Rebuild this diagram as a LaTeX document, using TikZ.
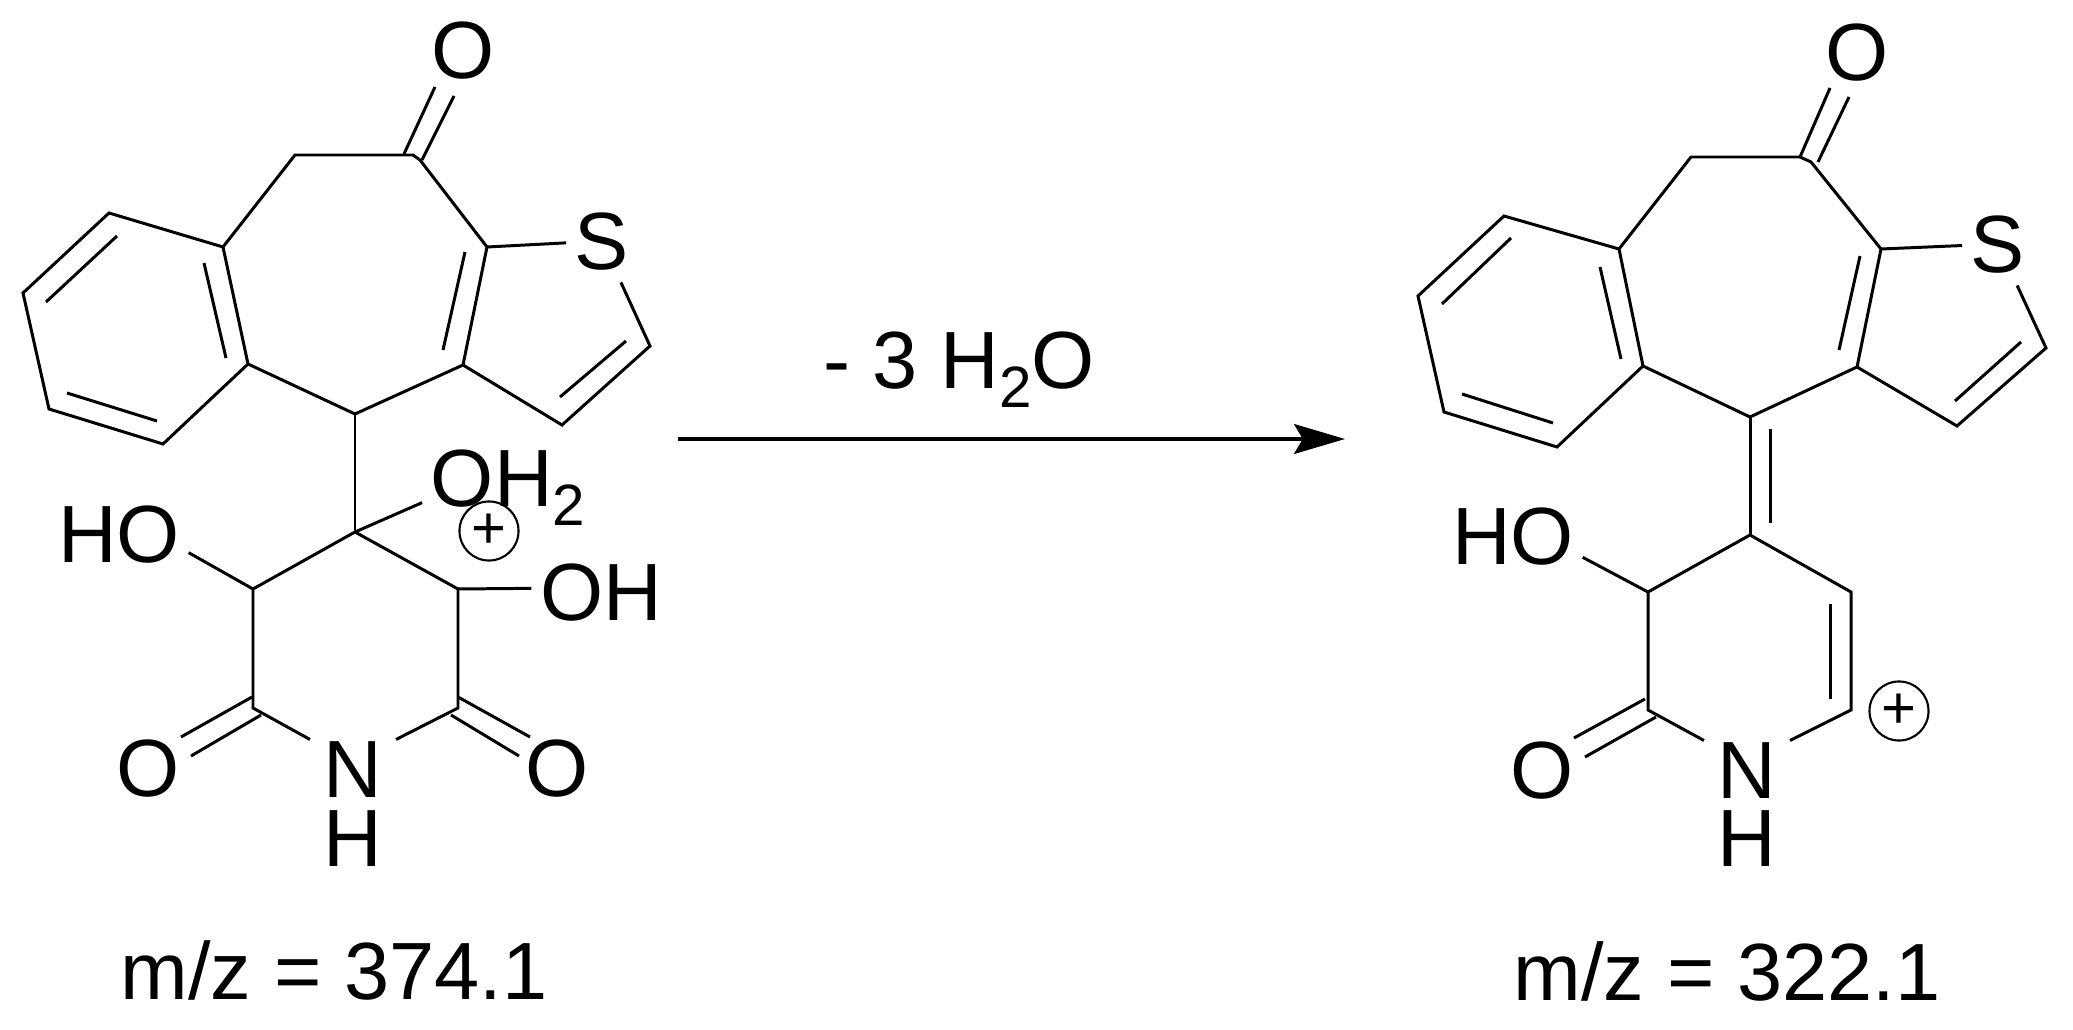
\documentclass[tikz,border=0pt]{standalone}
\usepackage{fontspec}
\setmainfont{Liberation Sans}
\usetikzlibrary{arrows.meta}

\newcommand{\subtwo}{\raisebox{-5.4pt}{\fontsize{16.6}{18}\selectfont 2}}

\tikzset{
  bond/.style={line width=0.85pt,black,line join=miter},
  atom/.style={font=\fontsize{23.1}{27}\selectfont,text height=16.4pt,text depth=0pt,inner xsep=2.3pt,inner ysep=0pt},
  atoms/.style={atom,inner ysep=3.4pt},
  atomn/.style={atom,inner xsep=3.7pt},
  charge/.style={draw,circle,line width=0.6pt,minimum size=16.8pt,inner sep=0pt,font=\fontsize{17}{18}\selectfont},
  caption/.style={font=\fontsize{23.1}{27}\selectfont,anchor=base,inner sep=0pt}
}

\begin{document}
\begin{tikzpicture}[x=0.1mm,y=-0.1mm]
 \useasboundingbox (0,0) rectangle (2073,1030);

 % left molecule, labels
 \node[atom] (lo) at (463,50) {O};
 \node[atoms] (ls) at (602,241) {S};
 \node[atom] (lho) at (119,534) {HO};
 \node[atom] (loh) at (601,592) {OH};
 \node[atom] (loh2) at (508,478) {OH\subtwo};
 \node[charge] (lplus) at (489,531) {+};
 \node[atom] (lol) at (148,768) {O};
 \node[atom] (lor) at (557,768) {O};
 \node[atomn] (ln) at (353,769) {N};
 \node[atom] (lh) at (353,838) {H};
 \node[caption] (lmz) at (334,999) {m/z = 374.1};

 % left molecule, atoms
 \coordinate (lb1) at (223,247);
 \coordinate (lb2) at (109,213);
 \coordinate (lb3) at (23,293);
 \coordinate (lb4) at (49,409);
 \coordinate (lb5) at (163,444);
 \coordinate (lb6) at (248,364);
 \coordinate (lc1) at (295,155);
 \coordinate (lc2) at (413,155);
 \coordinate (lc3) at (420,160);
 \coordinate (lc4) at (487,247);
 \coordinate (lc5) at (463,365);
 \coordinate (lc6) at (355,414);
 \coordinate (lt1) at (650,346);
 \coordinate (lt2) at (562,425);
 \coordinate (lq) at (355,532);
 \coordinate (lr1) at (253,589);
 \coordinate (lr2) at (458,589);
 \coordinate (lr3) at (253,708);
 \coordinate (lr4) at (458,708);

 % left molecule, second lines of the double bonds
 \coordinate (li1a) at (204,263);
 \coordinate (li1b) at (226,358);
 \coordinate (li2a) at (117,236);
 \coordinate (li2b) at (46,302);
 \coordinate (li3a) at (67,393);
 \coordinate (li3b) at (157,421);
 \coordinate (li4a) at (465,252);
 \coordinate (li4b) at (443,350);
 \coordinate (li5a) at (626,341);
 \coordinate (li5b) at (560,397);
 \coordinate (ld1a) at (404,154);
 \coordinate (ld1b) at (435,87);
 \coordinate (ld2a) at (422,160);
 \coordinate (ld2b) at (454,96);
 \coordinate (ld3a) at (252,697);
 \coordinate (ld3b) at (181,737);
 \coordinate (ld4a) at (261,715);
 \coordinate (ld4b) at (191,756);
 \coordinate (ld5a) at (458,697);
 \coordinate (ld5b) at (530,737);
 \coordinate (ld6a) at (451,715);
 \coordinate (ld6b) at (519,756);

 % left molecule, bonds
 \draw[bond] (lb1)--(lb2)--(lb3)--(lb4)--(lb5)--(lb6)--cycle;
 \draw[bond] (lb1)--(lc1)--(lc2)--(lc3)--(lc4)--(lc5)--(lc6)--(lb6);
 \draw[bond] (lc4)--(ls);
 \draw[bond] (lc5)--(lt2)--(lt1)--(ls);
 \draw[bond] (lc6)--(lq);
 \draw[bond] (lq)--(loh2.196);
 \draw[bond] (lq)--(lr1)--(lr3)--(ln.north west);
 \draw[bond] (lq)--(lr2)--(lr4)--(ln.north east);
 \draw[bond] (lr1)--(lho.-15);
 \draw[bond] (lr2)--(loh.177);
 \draw[bond] (li1a)--(li1b);
 \draw[bond] (li2a)--(li2b);
 \draw[bond] (li3a)--(li3b);
 \draw[bond] (li4a)--(li4b);
 \draw[bond] (li5a)--(li5b);
 \draw[bond] (ld1a)--(ld1b);
 \draw[bond] (ld2a)--(ld2b);
 \draw[bond] (ld3a)--(ld3b);
 \draw[bond] (ld4a)--(ld4b);
 \draw[bond] (ld5a)--(ld5b);
 \draw[bond] (ld6a)--(ld6b);

 % reaction arrow
 \coordinate (arstart) at (678,439);
 \coordinate (arend) at (1345,439);
 \draw[line width=1pt,black,-{Stealth[length=14.5pt,width=8.5pt,inset=2.5pt]}] (arstart)--(arend);
 \node[caption] (loss) at (959,389) {- 3 H\subtwo O};

 % right molecule, labels
 \node[atom] (ro) at (1857,52) {O};
 \node[atoms] (rs) at (1998,244) {S};
 \node[atom] (rho) at (1513,536) {HO};
 \node[charge] (rplus) at (1899,711) {+};
 \node[atom] (rol) at (1542,770) {O};
 \node[atomn] (rn) at (1747,770) {N};
 \node[atom] (rh) at (1747,838) {H};
 \node[caption] (rmz) at (1727,1000) {m/z = 322.1};

 % right molecule, atoms
 \coordinate (rb1) at (1619,249);
 \coordinate (rb2) at (1504,216);
 \coordinate (rb3) at (1418,296);
 \coordinate (rb4) at (1444,412);
 \coordinate (rb5) at (1557,447);
 \coordinate (rb6) at (1643,366);
 \coordinate (rc1) at (1691,157);
 \coordinate (rc2) at (1800,157);
 \coordinate (rc3) at (1811,162);
 \coordinate (rc4) at (1881,249);
 \coordinate (rc5) at (1857,367);
 \coordinate (rc6) at (1750,417);
 \coordinate (rt1) at (2046,348);
 \coordinate (rt2) at (1957,426);
 \coordinate (rq) at (1750,535);
 \coordinate (rr1) at (1648,592);
 \coordinate (rr2) at (1851,592);
 \coordinate (rr3) at (1648,710);
 \coordinate (rr4) at (1851,710);

 % right molecule, second lines of the double bonds
 \coordinate (ri1a) at (1600,267);
 \coordinate (ri1b) at (1621,359);
 \coordinate (ri2a) at (1511,238);
 \coordinate (ri2b) at (1442,304);
 \coordinate (ri3a) at (1462,394);
 \coordinate (ri3b) at (1553,423);
 \coordinate (ri4a) at (1860,256);
 \coordinate (ri4b) at (1839,350);
 \coordinate (ri5a) at (2021,342);
 \coordinate (ri5b) at (1955,401);
 \coordinate (ri6a) at (1830,604);
 \coordinate (ri6b) at (1830,699);
 \coordinate (ri7a) at (1770,429);
 \coordinate (ri7b) at (1770,523);
 \coordinate (rd1a) at (1800,157);
 \coordinate (rd1b) at (1830,88);
 \coordinate (rd2a) at (1818,162);
 \coordinate (rd2b) at (1849,97);
 \coordinate (rd3a) at (1645,699);
 \coordinate (rd3b) at (1574,738);
 \coordinate (rd4a) at (1656,717);
 \coordinate (rd4b) at (1585,757);

 % right molecule, bonds
 \draw[bond] (rb1)--(rb2)--(rb3)--(rb4)--(rb5)--(rb6)--cycle;
 \draw[bond] (rb1)--(rc1)--(rc2)--(rc3)--(rc4)--(rc5)--(rc6)--(rb6);
 \draw[bond] (rc4)--(rs);
 \draw[bond] (rc5)--(rt2)--(rt1)--(rs);
 \draw[bond] (rc6)--(rq);
 \draw[bond] (rq)--(rr1)--(rr3)--(rn.north west);
 \draw[bond] (rq)--(rr2)--(rr4)--(rn.north east);
 \draw[bond] (rr1)--(rho.-17);
 \draw[bond] (ri1a)--(ri1b);
 \draw[bond] (ri2a)--(ri2b);
 \draw[bond] (ri3a)--(ri3b);
 \draw[bond] (ri4a)--(ri4b);
 \draw[bond] (ri5a)--(ri5b);
 \draw[bond] (ri6a)--(ri6b);
 \draw[bond] (ri7a)--(ri7b);
 \draw[bond] (rd1a)--(rd1b);
 \draw[bond] (rd2a)--(rd2b);
 \draw[bond] (rd3a)--(rd3b);
 \draw[bond] (rd4a)--(rd4b);
\end{tikzpicture}
\end{document}
